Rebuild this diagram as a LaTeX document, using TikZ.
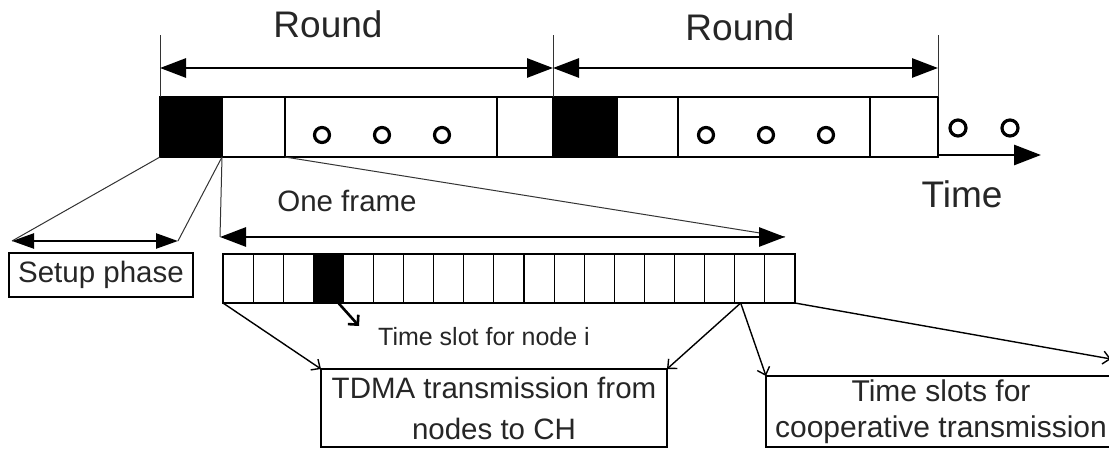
\documentclass[tikz,border=0pt]{standalone}
\usepackage{fontspec}
\setmainfont{Liberation Sans}
\usetikzlibrary{arrows.meta,positioning}
\begin{document}
\begin{tikzpicture}[x=1pt,y=-1pt,
  seg/.style={draw,line width=2.6pt,minimum height=60pt,inner sep=0pt,outer sep=0pt},
  slot/.style={draw,line width=1.1pt,minimum width=30.1pt,minimum height=49pt,inner sep=0pt,outer sep=0pt,anchor=west},
  lbox/.style={draw,line width=1.4pt,inner sep=0pt,outer sep=0pt,align=center,text=black!85},
  span/.style={line width=2.8pt,{Triangle[length=26pt,width=19pt]}-{Triangle[length=26pt,width=19pt]}},
  spansm/.style={line width=2.4pt,{Triangle[length=22pt,width=15pt]}-{Triangle[length=22pt,width=15pt]}},
  guide/.style={line width=1pt,black!80},
  ptr/.style={line width=1.4pt,-{Straight Barb[length=7pt,width=13pt]}},
  big/.style={font=\fontsize{37}{40}\selectfont,text=black!85,anchor=base},
  mid/.style={font=\fontsize{29.5}{41}\selectfont,text=black!85},
]
  \path[use as bounding box,clip] (0,0) rectangle (1109,449);
  \node[seg,fill=black,minimum width=62pt,anchor=west] (r1set) at (160,127) {};
  \node[seg,minimum width=63pt,right=0pt of r1set] (r1frm) {};
  \node[seg,minimum width=212pt,right=0pt of r1frm] (r1dots) {};
  \node[seg,minimum width=56pt,right=0pt of r1dots] (r1last) {};
  \node[seg,fill=black,minimum width=64pt,right=0pt of r1last] (r2set) {};
  \node[seg,minimum width=61pt,right=0pt of r2set] (r2frm) {};
  \node[seg,minimum width=192pt,right=0pt of r2frm] (r2dots) {};
  \node[seg,minimum width=68pt,right=0pt of r2dots] (r2last) {};
  \foreach \x in {322,382,442,706,766,826}
    \draw[line width=3.2pt] (\x,135) circle (7.5pt);
  \foreach \x in {958,1010}
    \draw[line width=3.2pt] (\x,128) circle (8pt);
  \coordinate (k1) at (160,35);
  \coordinate (k2) at (553,35);
  \coordinate (k3) at (938,35);
  \draw[guide] (r1set.north west) -- (k1);
  \draw[guide] (r2set.north west) -- (k2);
  \draw[guide] (r2last.north east) -- (k3);
  \draw[span] (r1set.north west |- 0,68) -- (r2set.north west |- 0,68);
  \draw[span] (r2set.north west |- 0,68) -- (r2last.north east |- 0,68);
  \node[big] (rlab1) at (328,38) {Round};
  \node[big] (rlab2) at (740,41) {Round};
  \coordinate (tend) at (1041,155);
  \draw[line width=2.8pt,-{Triangle[length=27pt,width=20pt]}] (r2last.south east |- 0,155) -- (tend);
  \node[big] (tlab) at (962,208) {Time};

  \coordinate (sa) at (12,241);
  \coordinate (sb) at (178,241);
  \draw[guide] (r1set.south west) -- (sa);
  \draw[guide] (r1set.south east) -- (sb);
  \draw[spansm] (sa) -- (sb);
  \node[lbox,mid,minimum width=184pt,minimum height=44pt] (setup) at (101,275) {Setup phase};

  \coordinate (fa) at (220,237);
  \coordinate (fb) at (785,237);
  \draw[guide] (r1set.south east) -- (fa);
  \draw[guide] (r1frm.south east) -- (fb);
  \draw[span] (fa) -- (fb);
  \node[mid,anchor=base] (flab) at (347,212) {One frame};

  \foreach \i in {0,...,18}
    \node[slot] (s\i) at (223+\i*30.1,278.5) {};
  \node[slot,fill=black,anchor=center] (slotI) at (s3.center) {};
  \draw[line width=1.6pt] (s0.north west) rectangle (s18.south east);
  \coordinate (pe) at (359,326);
  \draw[line width=2.6pt,-{Straight Barb[length=7pt,width=14pt]}] ([xshift=-5pt]slotI.south east) -- (pe);
  \node[font=\fontsize{25}{30}\selectfont,text=black!85,anchor=base] (slab) at (484,345) {Time slot for node i};

  \node[lbox,mid,minimum width=346pt,minimum height=78pt] (tdma) at (494,408) {TDMA transmission from\\nodes to CH};
  \node[lbox,font=\fontsize{30}{36}\selectfont,minimum width=350pt,minimum height=71pt] (coop) at (941,411.5) {Time slots for\\cooperative transmission};
  \coordinate (sp) at ([xshift=6pt]s17.south west);
  \coordinate (ce) at (1111,359);
  \draw[ptr] (s0.south west) -- (tdma.north west);
  \draw[ptr] (sp) -- (tdma.north east);
  \draw[ptr] (sp) -- (coop.north west);
  \draw[ptr] (s18.south east) -- (ce);
\end{tikzpicture}
\end{document}
